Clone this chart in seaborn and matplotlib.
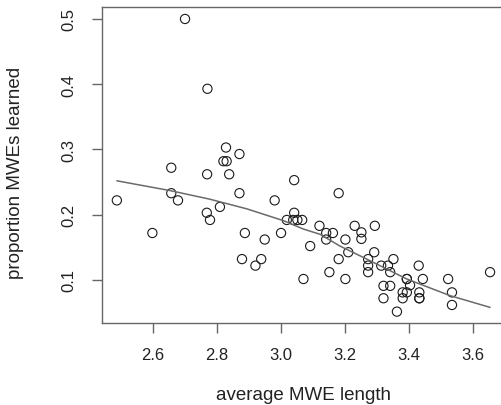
import matplotlib
matplotlib.use("Agg")
import matplotlib.pyplot as plt
import numpy as np
import pandas as pd
import seaborn as sns

# points (average MWE length, proportion learned)
mwe_length = [2.487, 2.598, 2.657, 2.657, 2.678, 2.700, 2.769, 2.770, 2.768, 2.778,
              2.809, 2.820, 2.830, 2.828, 2.838, 2.870, 2.870, 2.887, 2.878, 2.920,
              2.938, 2.949, 2.980, 3.000, 3.041, 3.041, 3.018, 3.038, 3.051, 3.066,
              3.070, 3.091, 3.120, 3.141, 3.162, 3.141, 3.151, 3.180, 3.180, 3.201,
              3.201, 3.210, 3.230, 3.251, 3.251, 3.272, 3.272, 3.272, 3.291, 3.293,
              3.313, 3.334, 3.351, 3.341, 3.320, 3.341, 3.320, 3.362, 3.393, 3.393,
              3.403, 3.380, 3.393, 3.380, 3.430, 3.443, 3.432, 3.432, 3.432, 3.522,
              3.534, 3.534, 3.653]
prop_learned = [0.222, 0.172, 0.272, 0.233, 0.222, 0.500, 0.262, 0.393, 0.203, 0.192,
                0.212, 0.282, 0.282, 0.303, 0.262, 0.293, 0.233, 0.172, 0.132, 0.122,
                0.132, 0.162, 0.222, 0.172, 0.253, 0.203, 0.192, 0.192, 0.192, 0.192,
                0.1015, 0.152, 0.183, 0.172, 0.172, 0.162, 0.112, 0.233, 0.132, 0.162,
                0.1015, 0.1425, 0.183, 0.173, 0.163, 0.132, 0.122, 0.112, 0.1425, 0.183,
                0.122, 0.122, 0.132, 0.112, 0.091, 0.091, 0.072, 0.0515, 0.1015, 0.1015,
                0.092, 0.081, 0.081, 0.072, 0.122, 0.1015, 0.081, 0.072, 0.072, 0.1015,
                0.081, 0.0617, 0.112]

# smoothed (lowess) curve
smooth_x = [2.487, 2.653, 2.776, 2.893, 2.950, 3.007, 3.070, 3.122, 3.184, 3.247,
            3.393, 3.528, 3.653]
smooth_y = [0.252, 0.237, 0.224, 0.209, 0.200, 0.191, 0.178, 0.170, 0.152, 0.137,
            0.1015, 0.076, 0.058]

x_ticks = [2.6, 2.8, 3.0, 3.2, 3.4, 3.6]
y_ticks = [0.1, 0.2, 0.3, 0.4, 0.5]

sns.set_style("ticks")
plt.rcParams['font.family'] = ['Liberation Sans', 'DejaVu Sans']

df = pd.DataFrame({'len': mwe_length, 'prop': prop_learned})

fig = plt.figure(figsize=(5.01, 4.06), dpi=100)
ax = fig.add_axes([0.2032, 0.2012, 0.805, 0.7784])

sns.scatterplot(data=df, x='len', y='prop', ax=ax, marker='o', s=44,
                facecolors='none', edgecolor='#1a1a1a', linewidth=0.8)
ax.collections[0].set_facecolor('none')
sns.lineplot(x=smooth_x, y=smooth_y, ax=ax, sort=False, estimator=None,
             color='#6a6a6a', linewidth=1.1)

ax.set_xlim(2.440, 3.700)
ax.set_ylim(0.0336, 0.5179)
ax.set_xticks(x_ticks)
ax.set_xticklabels([f'{v:.1f}' for v in x_ticks])
ax.set_yticks(y_ticks)
ax.set_yticklabels([f'{v:.1f}' for v in y_ticks], rotation=90, va='center')

for sp in ax.spines.values():
    sp.set_color('#666666')
    sp.set_linewidth(1.0)
ax.tick_params(axis='both', length=7, width=1.0, color='#666666',
               labelsize=12, labelcolor='#222222')
ax.tick_params(axis='x', pad=10)
ax.tick_params(axis='y', pad=11)

ax.set_xlabel('average MWE length', fontsize=13.5, color='#222222')
ax.set_ylabel('proportion MWEs learned', fontsize=13.5, color='#222222')
ax.xaxis.set_label_coords(0.5, -0.197)
ax.yaxis.set_label_coords(-0.193, 0.478)

fig.savefig('out.png', dpi=100)
